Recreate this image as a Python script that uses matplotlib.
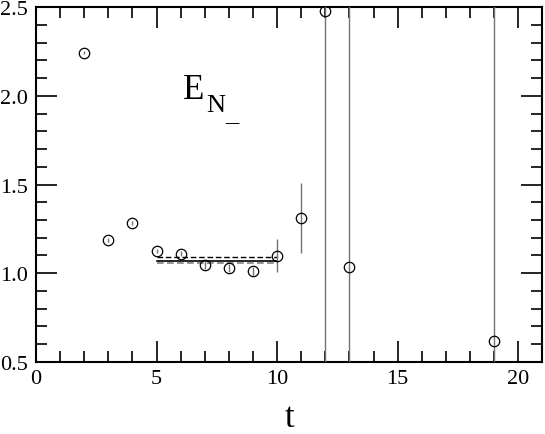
import numpy as np
import matplotlib.pyplot as plt
from matplotlib.ticker import MultipleLocator

# effective mass points
t = [2, 3, 4, 5, 6, 7, 8, 9, 10, 11, 12, 13, 19]
E = [2.244, 1.187, 1.285, 1.123, 1.110, 1.047, 1.029, 1.010, 1.098, 1.311, 2.477, 1.036, 0.617]
dE = [0.008, 0.010, 0.012, 0.012, 0.014, 0.022, 0.024, 0.026, 0.094, 0.20, 3.0, 3.0, 3.0]

# plateau fit over t = 5..10
fit_t = [5, 10]
fit_E = 1.070
fit_hi = 1.089
fit_lo = 1.055

plt.rcParams['font.family'] = ['Liberation Serif', 'DejaVu Serif']

fig = plt.figure(figsize=(5.45, 4.35), dpi=100)
ax = fig.add_axes([0.066, 0.166, 0.929, 0.815])

ax.errorbar(t, E, yerr=dE, fmt='o', mfc='none', mec='black', mew=0.9,
            ms=7.5, ecolor='0.45', elinewidth=1.0, capsize=0, zorder=3)

ax.plot(fit_t, [fit_E, fit_E], color='black', lw=1.2)
ax.plot(fit_t, [fit_hi, fit_hi], color='black', lw=1.0, ls=(0, (4, 2)))
ax.plot(fit_t, [fit_lo, fit_lo], color='0.5', lw=1.2, ls=(0, (4, 2)))

# E_{N_} label
ax.text(6.1, 1.99, 'E', fontsize=25, va='baseline', ha='left')
ax.text(7.08, 1.915, 'N', fontsize=19, va='baseline', ha='left')
ax.text(7.85, 1.87, '_', fontsize=19, va='baseline', ha='left')

ax.set_xlim(0, 21)
ax.set_ylim(0.5, 2.5)
ax.xaxis.set_major_locator(MultipleLocator(5))
ax.xaxis.set_minor_locator(MultipleLocator(1))
ax.yaxis.set_major_locator(MultipleLocator(0.5))
ax.yaxis.set_minor_locator(MultipleLocator(0.1))
ax.yaxis.set_major_formatter(plt.FormatStrFormatter('%.1f'))
ax.tick_params(which='both', direction='in', top=True, right=True, width=1.2)
ax.tick_params(which='major', length=15, labelsize=16)
ax.tick_params(which='minor', length=8)
ax.tick_params(axis='x', pad=5)
ax.tick_params(axis='y', pad=5.5)
for s in ax.spines.values():
    s.set_linewidth(1.5)

ax.set_xlabel('t', fontsize=25, va='bottom')
ax.xaxis.set_label_coords(0.5, -0.203)

fig.savefig('out.png', dpi=100)
